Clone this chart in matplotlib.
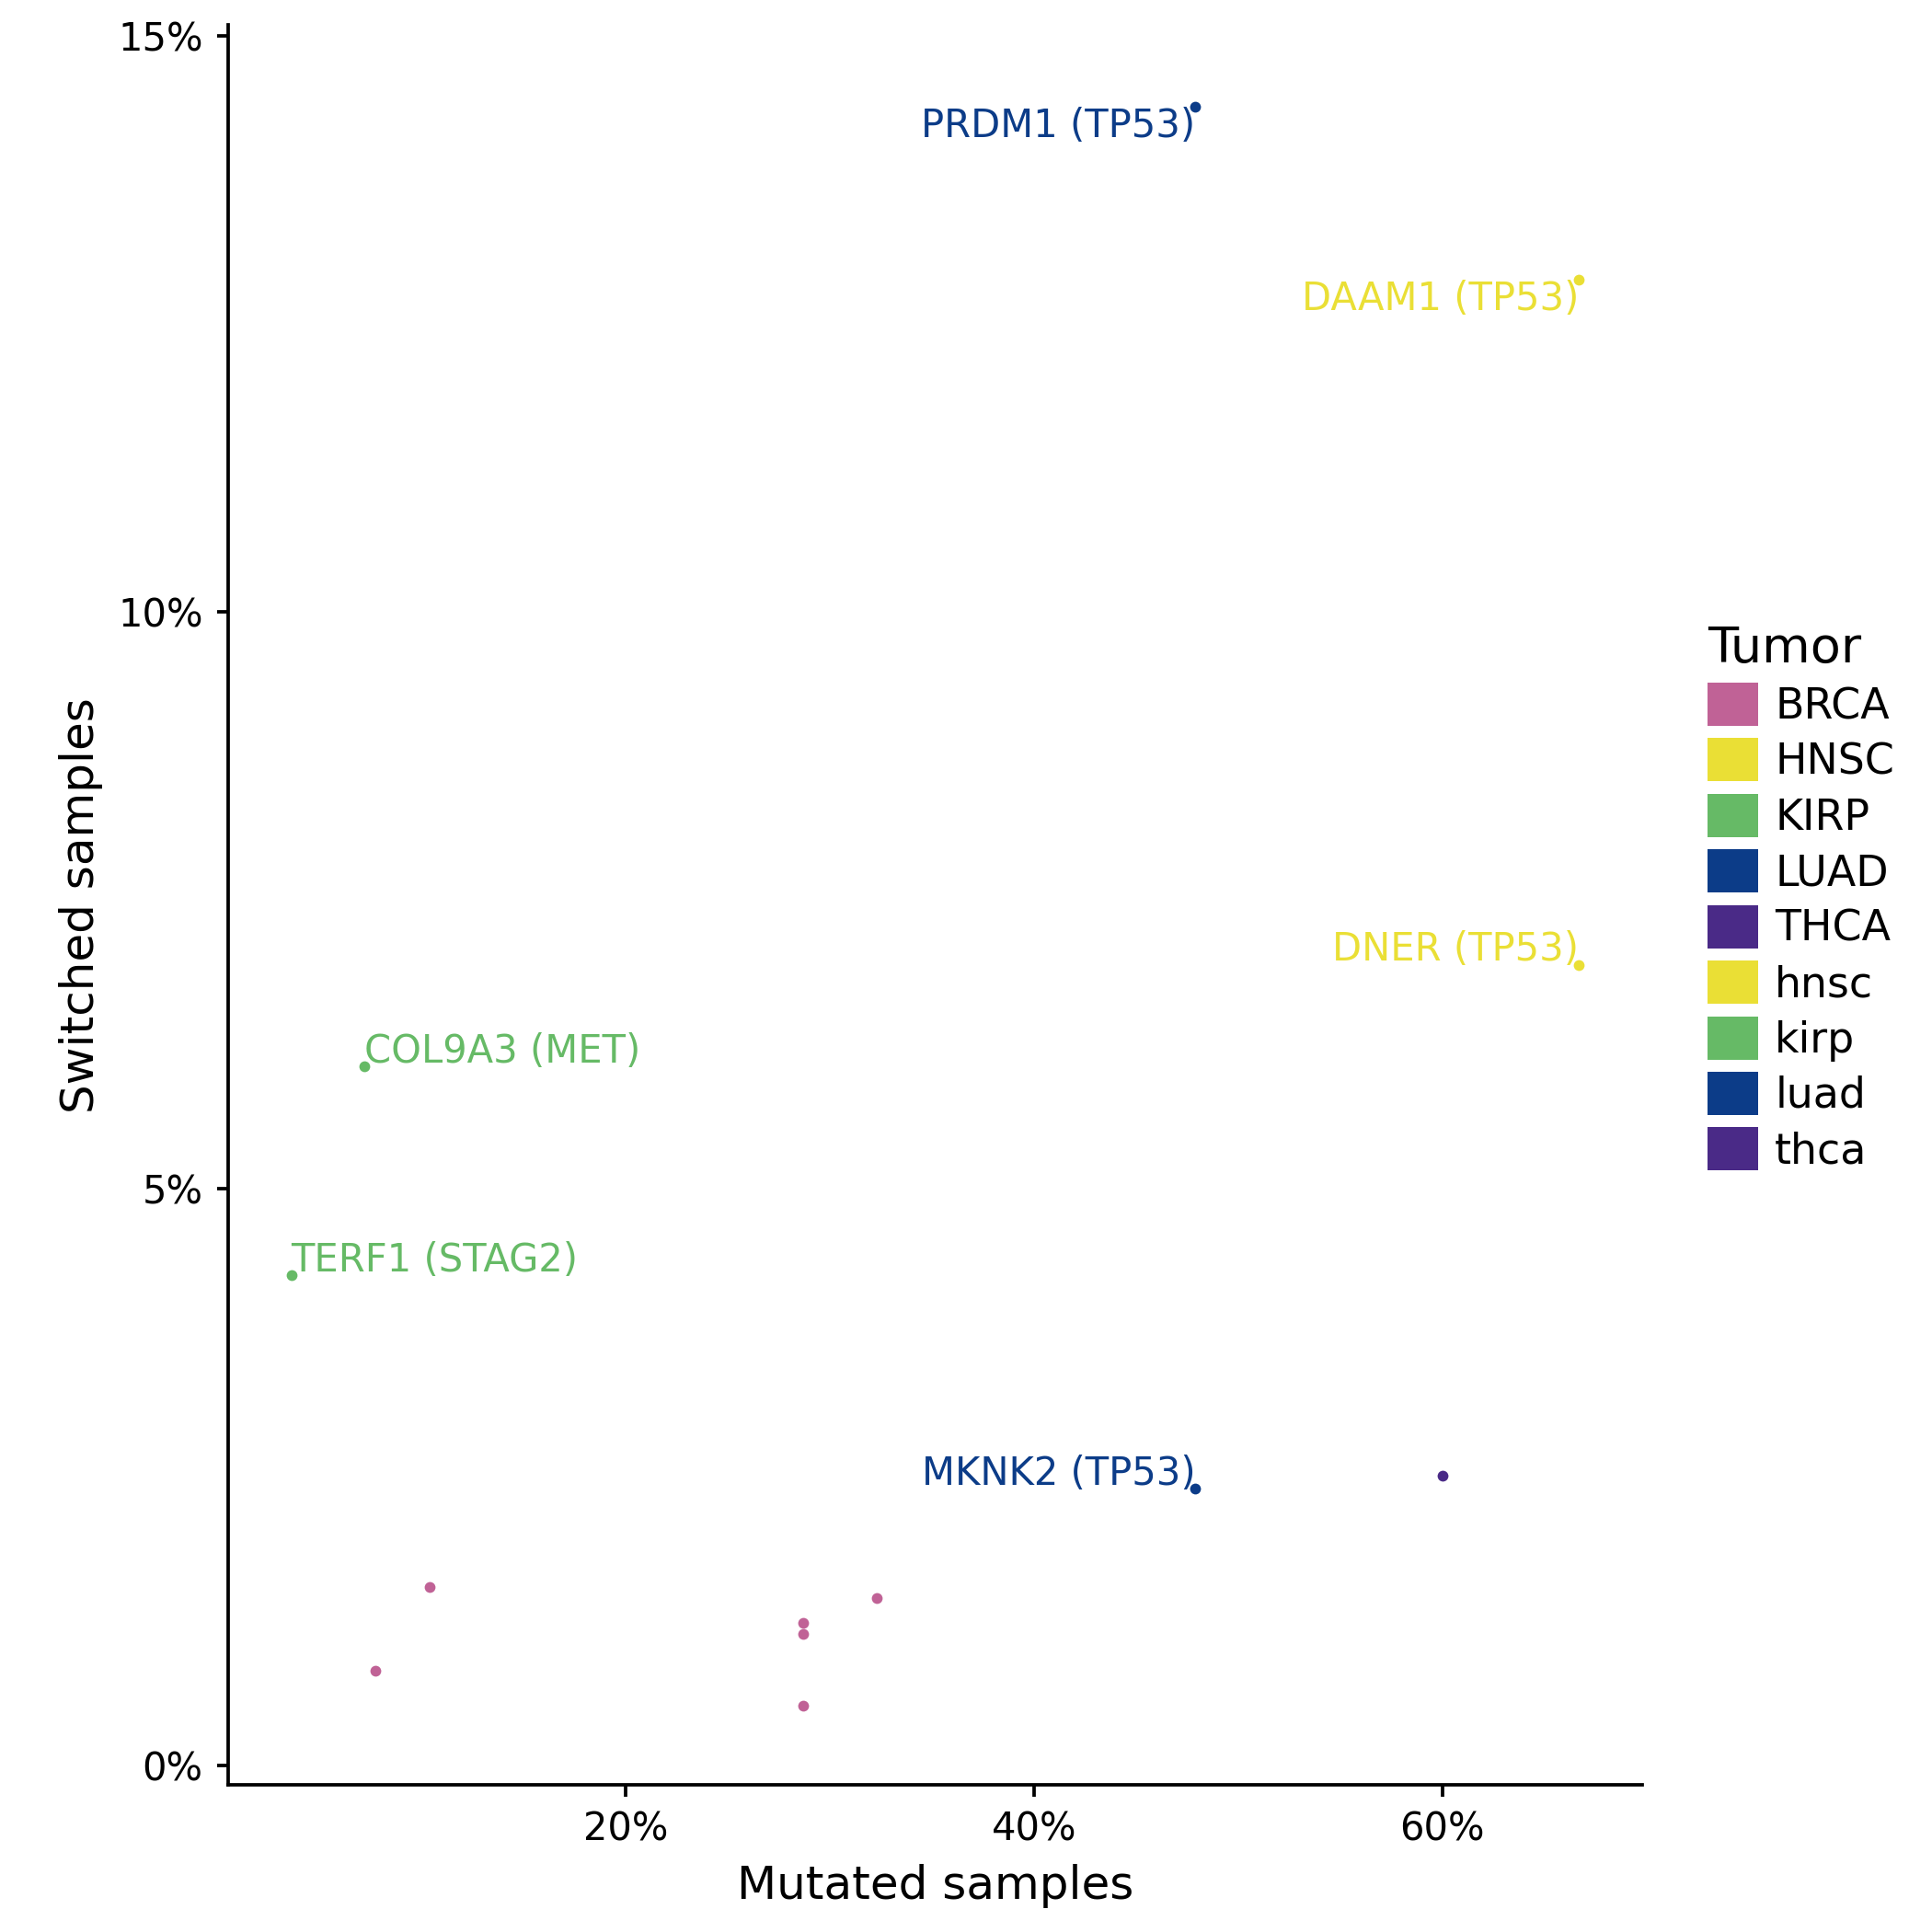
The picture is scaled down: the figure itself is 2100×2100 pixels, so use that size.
import matplotlib
matplotlib.use("Agg")
import matplotlib.pyplot as plt
from matplotlib.patches import Patch
from matplotlib.ticker import FuncFormatter

tumors = ["BRCA", "HNSC", "KIRP", "LUAD", "THCA", "hnsc", "kirp", "luad", "thca"]
colors = {"BRCA": "#C06296", "HNSC": "#EADF35", "KIRP": "#66BA66", "LUAD": "#0C3C88",
          "THCA": "#4A2A87", "hnsc": "#EADF35", "kirp": "#66BA66", "luad": "#0C3C88", "thca": "#4A2A87"}

pt_tumor = ["LUAD", "HNSC", "HNSC", "KIRP", "KIRP", "LUAD", "THCA",
            "BRCA", "BRCA", "BRCA", "BRCA", "BRCA", "BRCA"]
mutated = [47.9, 66.7, 66.7, 7.2, 3.6, 47.9, 60.0, 10.4, 7.7, 28.7, 28.7, 28.7, 32.3]
switched = [14.38, 12.88, 6.94, 6.06, 4.25, 2.40, 2.51, 1.55, 0.82, 1.24, 1.14, 0.52, 1.45]
labels = ["PRDM1 (TP53)", "DAAM1 (TP53)", "DNER (TP53)", "COL9A3 (MET)", "TERF1 (STAG2)",
          "MKNK2 (TP53)", "", "", "", "", "", "", ""]
label_side = ["left", "left", "left", "right", "right", "left", "", "", "", "", "", "", ""]
label_dy = [-5, -5, 4, 4, 4, 4, 0, 0, 0, 0, 0, 0, 0]

fig = plt.figure(figsize=(7, 7), dpi=300)
ax = fig.add_axes([0.118, 0.076, 0.732, 0.911])
for x, y, t, lab, side, dy in zip(mutated, switched, pt_tumor, labels, label_side, label_dy):
    ax.scatter(x, y, s=8, color=colors[t], zorder=3, linewidths=0)
    if lab:
        ha = "right" if side == "left" else "left"
        ax.annotate(lab, (x, y), xytext=(0, dy), textcoords="offset points",
                    ha=ha, va="center", fontsize=10, color=colors[t])

ax.set_xlim(0.5, 69.8)
ax.set_ylim(-0.17, 15.09)
ax.set_xticks([20, 40, 60])
ax.set_yticks([0, 5, 10, 15])
fmt = FuncFormatter(lambda v, p: f"{v:.0f}%")
ax.xaxis.set_major_formatter(fmt)
ax.yaxis.set_major_formatter(fmt)
for s in ["top", "right"]:
    ax.spines[s].set_visible(False)
for s in ["left", "bottom"]:
    ax.spines[s].set_linewidth(0.9)
ax.tick_params(labelsize=10, width=0.9, length=3, colors="black")
ax.set_xlabel("Mutated samples", fontsize=12)
ax.set_ylabel("Switched samples", fontsize=12)

handles = [Patch(facecolor=colors[t], edgecolor="none", label=t) for t in tumors]
leg = fig.legend(handles=handles, title="Tumor", loc="center left", bbox_to_anchor=(0.875, 0.535),
                 frameon=False, fontsize=11, title_fontsize=13, handlelength=1.2, handleheight=1.2,
                 labelspacing=0.25, handletextpad=0.4, borderaxespad=0)
leg._legend_box.align = "left"
fig.savefig("out.png", dpi=300, facecolor="white")
